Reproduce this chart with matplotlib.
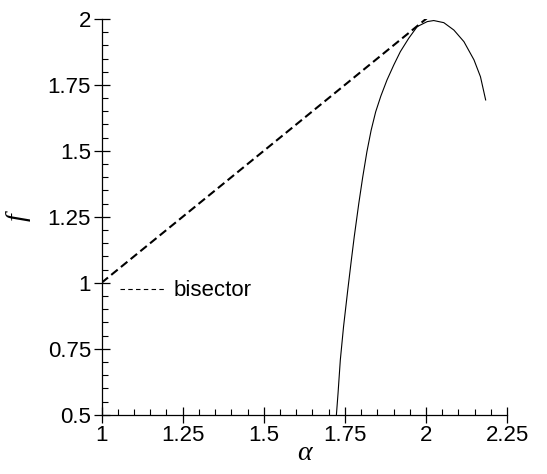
import matplotlib
matplotlib.use("Agg")
import matplotlib.pyplot as plt
from matplotlib.lines import Line2D
from matplotlib.ticker import MultipleLocator, FixedLocator

# data
curve_alpha = [1.724, 1.729, 1.736, 1.746, 1.759, 1.770, 1.779, 1.793, 1.805, 1.818,
               1.831, 1.845, 1.861, 1.880, 1.901, 1.921, 1.947, 1.973, 2.004, 2.024,
               2.055, 2.086, 2.117, 2.148, 2.168, 2.184]
curve_f = [0.500, 0.581, 0.707, 0.834, 0.973, 1.086, 1.175, 1.301, 1.400, 1.497,
           1.578, 1.648, 1.708, 1.769, 1.826, 1.876, 1.927, 1.971, 1.990, 1.994,
           1.986, 1.958, 1.914, 1.845, 1.781, 1.693]
bisector_alpha = [1.0, 2.01]
bisector_f = [1.0, 2.01]
xticks = [1, 1.25, 1.5, 1.75, 2, 2.25]
xtick_labels = ["1", "1.25", "1.5", "1.75", "2", "2.25"]
yticks = [0.5, 0.75, 1, 1.25, 1.5, 1.75, 2]
ytick_labels = ["0.5", "0.75", "1", "1.25", "1.5", "1.75", "2"]

plt.rcParams['font.family'] = ['Liberation Sans', 'DejaVu Sans']

fig = plt.figure(figsize=(5.47, 4.74), dpi=100)
ax = fig.add_axes([0.1856, 0.1251, 0.7414, 0.8349])

ax.plot(bisector_alpha, bisector_f, color='black', lw=1.5, linestyle=(0, (4, 2)))
ax.plot(curve_alpha, curve_f, color='black', lw=0.8)

ax.set_xlim(1, 2.25)
ax.set_ylim(0.5, 2)
for s in ['top', 'right']:
    ax.spines[s].set_visible(False)
for s in ['left', 'bottom']:
    ax.spines[s].set_linewidth(0.9)

ax.xaxis.set_major_locator(FixedLocator(xticks))
ax.set_xticklabels(xtick_labels)
ax.yaxis.set_major_locator(FixedLocator(yticks))
ax.set_yticklabels(ytick_labels)
ax.xaxis.set_minor_locator(MultipleLocator(0.05))
ax.yaxis.set_minor_locator(MultipleLocator(0.05))
ax.tick_params(which='major', direction='inout', length=11, width=0.9, labelsize=16, pad=2)
ax.tick_params(which='minor', direction='in', length=4.3, width=0.8)

ax.set_xlabel('α', fontsize=20, family='Liberation Serif', style='italic', labelpad=-4)
ax.set_ylabel('f', fontsize=20, family='Liberation Serif', style='italic', labelpad=12)

handle = Line2D([], [], color='black', lw=0.8, linestyle=(0, (4, 3)))
ax.legend([handle], ['bisector'], loc='center left', bbox_to_anchor=(0.045, 0.3126),
          frameon=False, fontsize=16, handlelength=2.1, handletextpad=0.3,
          borderaxespad=0, borderpad=0)

fig.savefig('out.png', dpi=100)
